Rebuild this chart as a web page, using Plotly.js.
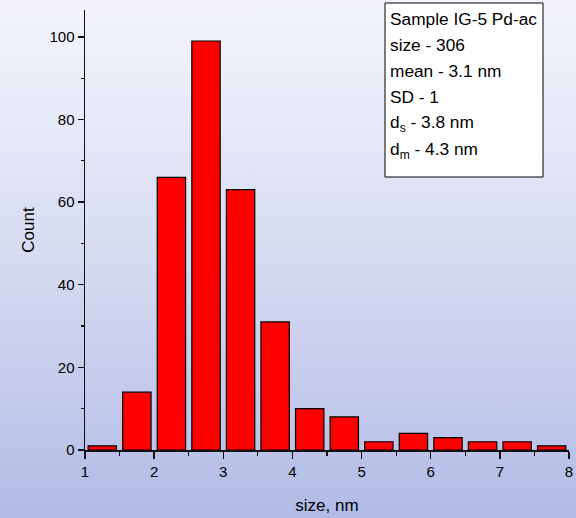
<!DOCTYPE html>
<html>
<head>
<meta charset="utf-8">
<script src="https://cdn.plot.ly/plotly-3.0.1.min.js"></script>
<style>
  html, body { margin: 0; padding: 0; }
  body { width: 576px; height: 518px; background: linear-gradient(to bottom, #f4f5fc 0%, #d6dbf1 50%, #b2bbe6 100%); }
  #chart { width: 576px; height: 518px; }
</style>
</head>
<body>
<div id="chart"></div>
<script>
// Histogram bins (size, nm) and counts
const binCenters = [1.25, 1.75, 2.25, 2.75, 3.25, 3.75, 4.25, 4.75, 5.25, 5.75, 6.25, 6.75, 7.25, 7.75];
const counts     = [1, 14, 66, 99, 63, 31, 10, 8, 2, 4, 3, 2, 2, 1];
const xTicks = [1, 2, 3, 4, 5, 6, 7, 8];
const yTicks = [0, 20, 40, 60, 80, 100];
const infoLines = [
  'Sample IG-5 Pd-ac',
  'size - 306',
  'mean - 3.1 nm',
  'SD - 1',
  'd<sub>s</sub> - 3.8 nm',
  'd<sub>m</sub> - 4.3 nm'
];

const font = 'Liberation Sans, Arial, sans-serif';
const L = 85, R = 7, T = 10, B = 68, W = 576, H = 518;
const pw = W - L - R, ph = H - T - B;
const px = x => (x - L) / pw;
const py = y => (H - B - y) / ph;

const lineY = [19, 45, 71, 97, 123, 150];
const annotations = infoLines.map((t, i) => ({
  xref: 'paper', yref: 'paper',
  x: px(388), y: py(lineY[i]),
  xanchor: 'left', yanchor: 'middle',
  text: t, showarrow: false,
  font: { family: font, size: 17.3, color: '#000' }
}));

const trace = {
  type: 'bar',
  x: binCenters,
  y: counts,
  width: 0.41,
  marker: { color: '#ff0000', line: { color: '#000', width: 1.2 } },
  hoverinfo: 'x+y'
};

const layout = {
  width: W, height: H,
  margin: { l: L, r: R, t: T, b: B, pad: 0 },
  paper_bgcolor: 'rgba(0,0,0,0)',
  plot_bgcolor: 'rgba(0,0,0,0)',
  showlegend: false,
  font: { family: font, color: '#000' },
  xaxis: {
    range: [1, 8],
    tickvals: xTicks,
    ticks: 'outside', ticklen: 7, tickwidth: 1.5, tickcolor: '#111',
    minor: { dtick: 0.5, tick0: 1, ticks: 'outside', ticklen: 4, tickwidth: 1.2, tickcolor: '#111' },
    showline: true, linecolor: '#111', linewidth: 1.5,
    showgrid: false, zeroline: false,
    tickfont: { family: font, size: 15, color: '#000' },
    title: { text: 'size, nm', font: { family: font, size: 17, color: '#000' }, standoff: 20 }
  },
  yaxis: {
    range: [0, 106.5],
    tickvals: yTicks,
    ticks: 'outside', ticklen: 6, tickwidth: 1.5, tickcolor: '#111',
    minor: { dtick: 10, tick0: 0, ticks: 'outside', ticklen: 3, tickwidth: 1.2, tickcolor: '#111' },
    showline: true, linecolor: '#111', linewidth: 1.5,
    showgrid: false, zeroline: false,
    tickfont: { family: font, size: 15, color: '#000' },
    title: { text: 'Count', font: { family: font, size: 17, color: '#000' }, standoff: 10 }
  },
  shapes: [{
    type: 'rect', xref: 'paper', yref: 'paper',
    x0: px(385), x1: px(543), y0: py(177), y1: py(3),
    line: { color: '#000', width: 1 }, fillcolor: '#ffffff', layer: 'above'
  }],
  annotations: annotations
};

Plotly.newPlot('chart', [trace], layout, { displayModeBar: false, staticPlot: true });
</script>
</body>
</html>
